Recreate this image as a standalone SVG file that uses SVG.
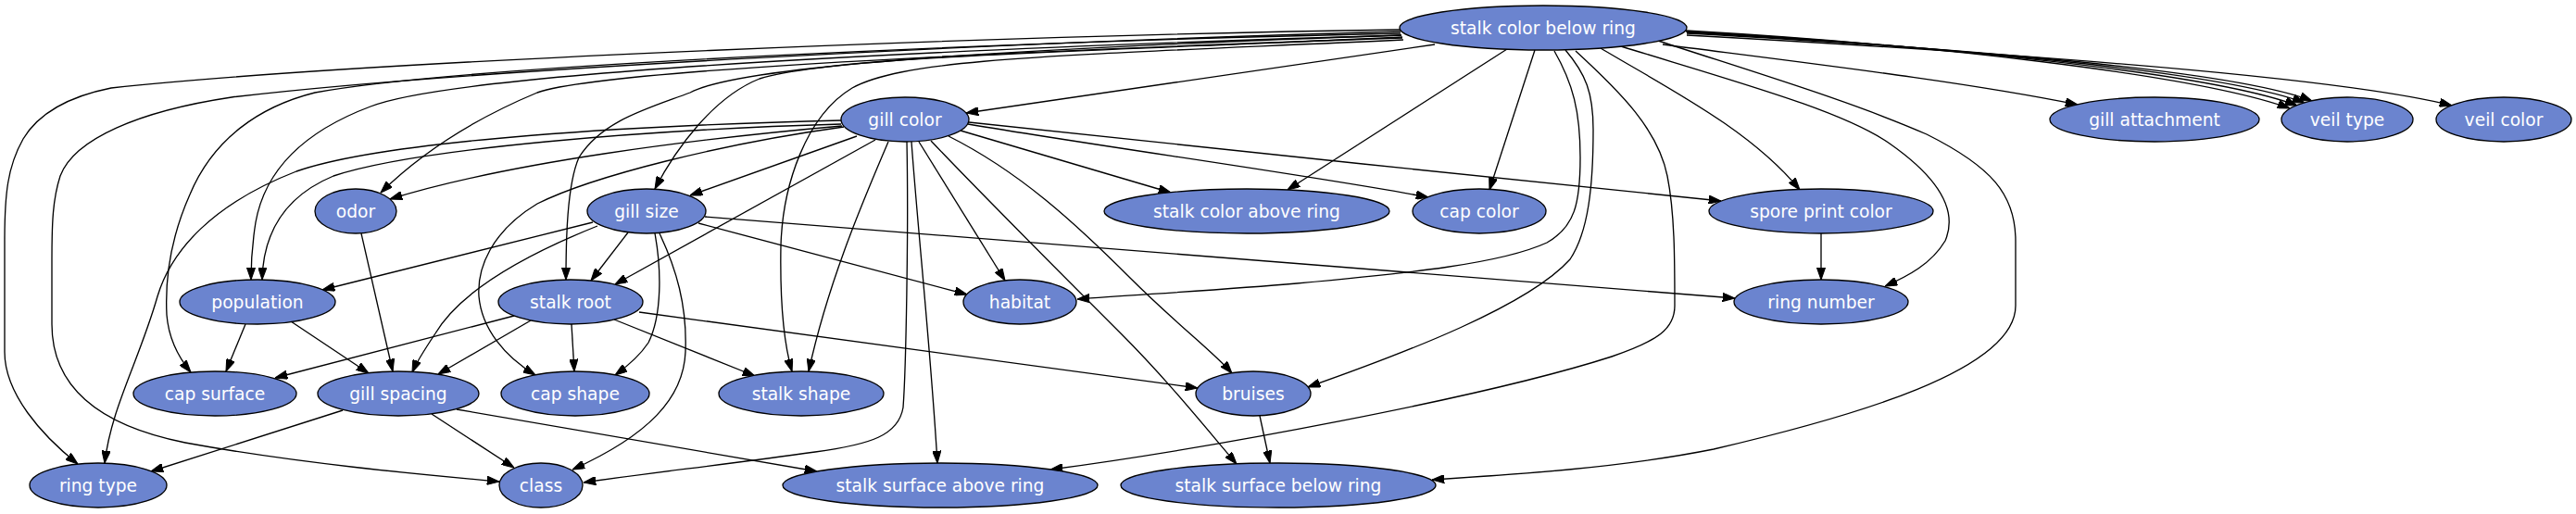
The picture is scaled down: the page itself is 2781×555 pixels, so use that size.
<svg xmlns="http://www.w3.org/2000/svg" width="2781" height="555" viewBox="0 0 2781 555">
<style>
.node ellipse{fill:#6b84cf;stroke:#000;stroke-width:1.33}
.node text{font-family:"DejaVu Sans",Verdana,sans-serif;font-size:18.67px;fill:#fff;text-anchor:middle}
.edges path{fill:none;stroke:#000;stroke-width:1.33;marker-end:url(#ah)}
</style>
<defs>
<marker id="ah" viewBox="0 0 10 7" refX="10" refY="3.5" markerWidth="13.3" markerHeight="9.3" markerUnits="userSpaceOnUse" orient="auto">
<path d="M0,0 L10,3.5 L0,7 z" fill="#000" stroke="#000" stroke-width="0.8"/>
</marker>
</defs>
<rect width="2781" height="555" fill="#fff"/>
<g class="edges">
<!-- stalk color below ring -->
<path d="M1549,48 L1043,122"/>
<path d="M1795,48 C1950,68 2120,88 2243,113"/>
<path d="M1820,33 C2080,48 2370,80 2472,117"/>
<path d="M1820,34 C2085,49 2385,78 2480,114"/>
<path d="M1821,35 C2090,50 2395,76 2488,111"/>
<path d="M1821,36 C2095,51 2405,74 2496,109"/>
<path d="M1821,38 C2150,56 2520,82 2647,114"/>
<path d="M1627,53 L1390,205"/>
<path d="M1657,54 L1608,205"/>
<path d="M1728,52 C1800,95 1890,140 1943,205"/>
<path d="M1750,50 C1880,90 1990,120 2040,155 C2090,190 2115,225 2100,260 C2085,285 2060,298 2035,309"/>
<path d="M1790,44 C1900,80 2000,110 2080,145 C2150,180 2176,210 2176,260 L2176,330 C2176,400 2000,450 1850,485 C1750,505 1640,512 1546,518"/>
<path d="M1690,54 C1712,80 1720,100 1720,140 C1720,200 1715,250 1695,280 C1650,330 1520,380 1412,418"/>
<path d="M1678,55 C1698,90 1706,120 1706,170 C1706,220 1700,245 1670,262 C1620,285 1520,295 1400,306 C1320,313 1230,318 1163,323"/>
<path d="M1701,55 C1750,100 1790,140 1800,190 C1808,230 1808,280 1808,330 C1808,355 1790,368 1740,385 C1600,430 1300,485 1134,507"/>
<path d="M1514,40 C1200,55 900,60 820,85 C770,105 730,160 707,204"/>
<path d="M1513,38 C1100,52 800,70 745,100 C700,117 650,130 625,170 C612,200 611,260 611,302"/>
<path d="M1515,43 C1150,60 980,62 920,95 C870,125 845,200 843,265 C842,320 846,370 855,401"/>
<path d="M1512,32 C1100,38 400,65 120,95 C70,105 40,125 25,150 C8,180 5,210 5,260 L5,380 C5,425 45,470 84,501"/>
<path d="M1512,34 C1100,45 500,75 250,105 C150,120 80,150 65,190 C57,215 56,240 56,280 L56,350 C56,420 110,460 200,478 C320,500 450,512 539,520"/>
<path d="M1512,36 C1100,45 500,70 340,100 C280,115 230,150 205,210 C185,255 178,300 180,340 C182,365 192,385 206,402"/>
<path d="M1513,38 C1100,50 500,75 400,115 C320,145 285,190 276,240 C272,265 271,285 271,302"/>
<path d="M1514,41 C1100,55 650,75 580,100 C520,125 460,160 411,208"/>
<!-- gill color -->
<path d="M909,136 C750,150 550,175 421,215"/>
<path d="M925,147 L745,211"/>
<path d="M908,134 C700,140 450,160 360,190 C300,215 284,260 283,302"/>
<path d="M908,130 C700,135 420,150 320,185 C230,220 185,270 170,320 C150,390 120,440 113,500"/>
<path d="M911,137 C780,155 640,190 580,220 C530,250 515,290 517,320 C520,355 545,385 578,405"/>
<path d="M945,151 L664,307"/>
<path d="M959,153 C935,210 895,300 873,401"/>
<path d="M979,153 C981,250 978,400 975,440 C970,470 940,480 880,488 C780,502 690,512 630,521"/>
<path d="M984,153 C991,250 1005,380 1012,500"/>
<path d="M992,153 L1085,303"/>
<path d="M1005,152 C1060,210 1150,300 1210,360 C1260,410 1300,460 1335,501"/>
<path d="M1024,147 C1100,185 1160,240 1220,300 C1270,350 1310,380 1330,403"/>
<path d="M1037,141 L1264,208"/>
<path d="M1045,134 C1200,160 1420,190 1542,213"/>
<path d="M1046,132 C1300,160 1600,190 1858,217"/>
<!-- gill size -->
<path d="M640,240 L348,313"/>
<path d="M678,251 L638,303"/>
<path d="M645,244 C580,270 500,310 470,360 C458,378 450,390 445,402"/>
<path d="M707,252 C714,290 715,340 700,370 C690,385 678,395 664,405"/>
<path d="M712,252 C730,290 742,330 740,380 C738,430 700,470 618,507"/>
<path d="M754,241 L1044,318"/>
<path d="M761,234 L1873,322"/>
<!-- others -->
<path d="M390,252 L424,401"/>
<path d="M265,350 L244,401"/>
<path d="M314,347 L398,403"/>
<path d="M555,341 L297,408"/>
<path d="M573,346 L473,404"/>
<path d="M617,350 L620,401"/>
<path d="M663,345 L815,406"/>
<path d="M690,337 L1293,419"/>
<path d="M370,443 L163,509"/>
<path d="M466,447 L555,505"/>
<path d="M493,442 L882,509"/>
<path d="M1360,449 L1371,500"/>
<path d="M1966,252 L1966,302"/>
</g>
<g id="n_scbr" class="node"><ellipse cx="1666" cy="30" rx="155" ry="24"/><text x="1666" y="36.5">stalk color below ring</text></g>
<g id="n_gc" class="node"><ellipse cx="977" cy="129" rx="69" ry="24"/><text x="977" y="135.5">gill color</text></g>
<g id="n_ga" class="node"><ellipse cx="2326" cy="129" rx="113" ry="24"/><text x="2326" y="135.5">gill attachment</text></g>
<g id="n_vt" class="node"><ellipse cx="2534" cy="129" rx="71" ry="24"/><text x="2534" y="135.5">veil type</text></g>
<g id="n_vc" class="node"><ellipse cx="2703" cy="129" rx="73" ry="24"/><text x="2703" y="135.5">veil color</text></g>
<g id="n_od" class="node"><ellipse cx="384" cy="228" rx="44" ry="24"/><text x="384" y="234.5">odor</text></g>
<g id="n_gs" class="node"><ellipse cx="698" cy="228" rx="64" ry="24"/><text x="698" y="234.5">gill size</text></g>
<g id="n_scar" class="node"><ellipse cx="1346" cy="228" rx="154" ry="24"/><text x="1346" y="234.5">stalk color above ring</text></g>
<g id="n_cc" class="node"><ellipse cx="1597" cy="228" rx="72" ry="24"/><text x="1597" y="234.5">cap color</text></g>
<g id="n_spc" class="node"><ellipse cx="1966" cy="228" rx="121" ry="24"/><text x="1966" y="234.5">spore print color</text></g>
<g id="n_pop" class="node"><ellipse cx="278" cy="326" rx="84" ry="24"/><text x="278" y="332.5">population</text></g>
<g id="n_sr" class="node"><ellipse cx="616" cy="326" rx="78" ry="24"/><text x="616" y="332.5">stalk root</text></g>
<g id="n_hab" class="node"><ellipse cx="1101" cy="326" rx="61" ry="24"/><text x="1101" y="332.5">habitat</text></g>
<g id="n_rn" class="node"><ellipse cx="1966" cy="326" rx="94" ry="24"/><text x="1966" y="332.5">ring number</text></g>
<g id="n_cs" class="node"><ellipse cx="232" cy="425" rx="88" ry="24"/><text x="232" y="431.5">cap surface</text></g>
<g id="n_gsp" class="node"><ellipse cx="430" cy="425" rx="87" ry="24"/><text x="430" y="431.5">gill spacing</text></g>
<g id="n_csh" class="node"><ellipse cx="621" cy="425" rx="80" ry="24"/><text x="621" y="431.5">cap shape</text></g>
<g id="n_ssh" class="node"><ellipse cx="865" cy="425" rx="89" ry="24"/><text x="865" y="431.5">stalk shape</text></g>
<g id="n_br" class="node"><ellipse cx="1353" cy="425" rx="62" ry="24"/><text x="1353" y="431.5">bruises</text></g>
<g id="n_rt" class="node"><ellipse cx="106" cy="524" rx="74" ry="24"/><text x="106" y="530.5">ring type</text></g>
<g id="n_cl" class="node"><ellipse cx="584" cy="524" rx="45" ry="24"/><text x="584" y="530.5">class</text></g>
<g id="n_ssar" class="node"><ellipse cx="1015" cy="524" rx="170" ry="24"/><text x="1015" y="530.5">stalk surface above ring</text></g>
<g id="n_ssbr" class="node"><ellipse cx="1380" cy="524" rx="170" ry="24"/><text x="1380" y="530.5">stalk surface below ring</text></g>
</svg>
